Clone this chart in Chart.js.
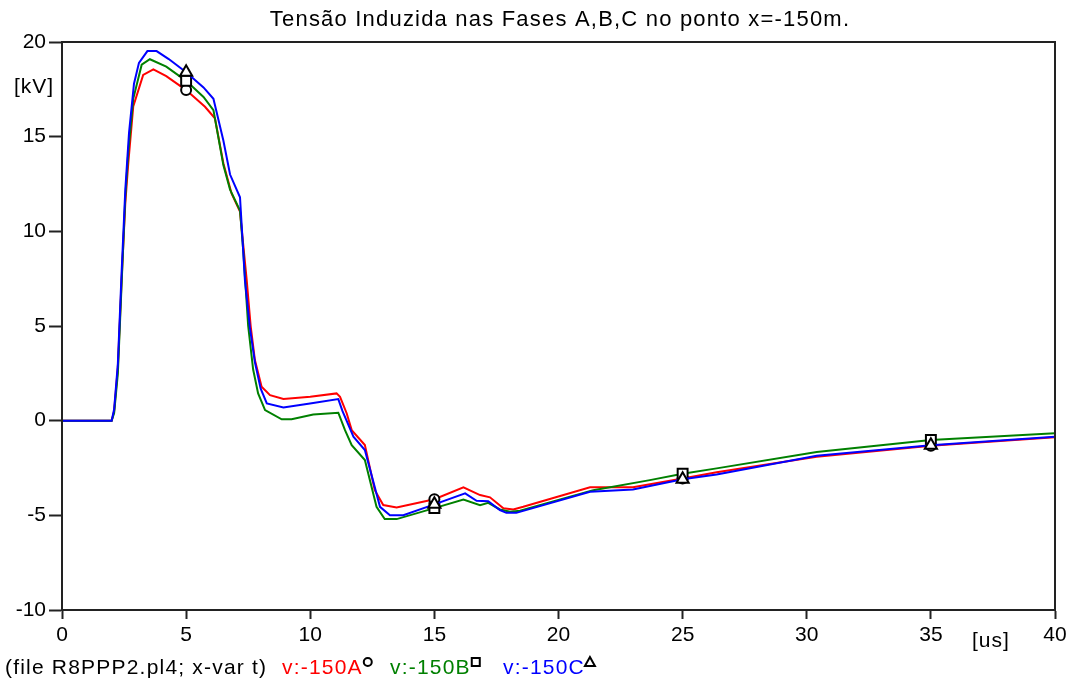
<!DOCTYPE html>
<html>
<head>
<meta charset="utf-8">
<script src="https://cdn.jsdelivr.net/npm/chart.js@4/dist/chart.umd.min.js"></script>
<style>
    body { margin: 0; background: #fff; }
    canvas { display: block; }
</style>
</head>
<body>
<canvas id="plot" width="1072" height="688"></canvas>
<script>
// 데이터
const titleText = 'Tensão Induzida nas Fases A,B,C no ponto x=-150m.';
const xTicks = [0, 5, 10, 15, 20, 25, 30, 35, 40];
const yTicks = [-10, -5, 0, 5, 10, 15, 20];
const markerTimes = [5, 15, 25, 35];

// v:-150A
const tA = [0, 2.0, 2.1, 2.25, 2.4, 2.55, 2.67, 2.87, 3.27, 3.68, 4.2, 5, 5.76, 6.16, 6.5, 6.83, 7.17, 7.44, 7.6, 7.77, 8.04, 8.38, 8.92, 10.0, 11.06, 11.2, 11.47, 11.67, 12.2, 12.6, 12.94, 13.48, 15, 16.17, 16.84, 17.24, 17.78, 18.18, 18.58, 21.27, 23.0, 25, 26.37, 30.4, 35, 40];
const vA = [0, 0, 0.5, 2.8, 7.4, 11.5, 13.6, 16.6, 18.26, 18.56, 18.2, 17.46, 16.58, 15.97, 13.6, 12.0, 11.04, 7.43, 5.0, 3.2, 1.79, 1.35, 1.14, 1.26, 1.44, 1.26, 0.38, -0.5, -1.29, -3.67, -4.46, -4.58, -4.15, -3.52, -3.93, -4.05, -4.63, -4.69, -4.55, -3.52, -3.52, -3.05, -2.72, -1.9, -1.33, -0.88];

// v:-150B
const tB = [0, 2.0, 2.1, 2.25, 2.4, 2.55, 2.67, 2.87, 3.21, 3.54, 4.2, 5, 5.7, 6.1, 6.5, 6.77, 7.17, 7.3, 7.5, 7.7, 7.9, 8.18, 8.85, 9.25, 10.12, 11.13, 11.4, 11.67, 12.2, 12.67, 13.0, 13.48, 15, 16.17, 16.84, 17.17, 17.64, 18.05, 18.45, 21.4, 23.68, 25, 26.37, 30.4, 35, 40];
const vB = [0, 0, 0.4, 2.5, 7.2, 11.8, 14.2, 17.0, 18.8, 19.09, 18.7, 17.95, 17.1, 16.4, 13.5, 12.2, 11.1, 9.0, 5.0, 2.7, 1.44, 0.56, 0.07, 0.07, 0.33, 0.42, -0.5, -1.29, -2.08, -4.55, -5.2, -5.2, -4.62, -4.16, -4.46, -4.34, -4.69, -4.81, -4.76, -3.67, -3.14, -2.8, -2.52, -1.65, -1.02, -0.67];

// v:-150C
const tC = [0, 2.0, 2.1, 2.25, 2.4, 2.55, 2.7, 2.9, 3.1, 3.44, 3.81, 4.3, 5, 5.7, 6.1, 6.5, 6.77, 7.17, 7.37, 7.57, 7.77, 8.0, 8.25, 8.92, 9.99, 11.13, 11.3, 11.74, 12.2, 12.81, 13.21, 13.75, 15, 16.24, 16.7, 17.17, 17.64, 17.9, 18.3, 21.27, 23.0, 25, 26.37, 30.4, 35, 40];
const vC = [0, 0, 0.6, 3.0, 7.8, 12.2, 15.2, 17.8, 18.9, 19.52, 19.52, 19.1, 18.4, 17.6, 17.0, 14.8, 13.0, 11.8, 7.4, 4.9, 3.1, 1.7, 0.91, 0.7, 0.91, 1.14, 0.5, -0.85, -1.55, -4.55, -4.99, -4.99, -4.42, -3.84, -4.23, -4.25, -4.72, -4.87, -4.87, -3.76, -3.63, -3.1, -2.84, -1.85, -1.3, -0.85];

const FONT = '"Liberation Sans", Arial, sans-serif';

// x, y 배열을 점 목록으로 변환
function toPoints(ts, vs) {
    return ts.map((t, i) => ({ x: t, y: vs[i] }));
}

// 마커는 t = 5, 15, 25, 35 에만 표시
function markerRadius(r) {
    return ctx => (ctx.raw && markerTimes.includes(ctx.raw.x)) ? r : 0;
}

function makeSeries(label, ts, vs, color, style, r, order) {
    return {
        label: label,
        data: toPoints(ts, vs),
        order: order,
        borderColor: color,
        borderWidth: 2,
        tension: 0,
        pointStyle: style,
        pointRadius: markerRadius(r),
        pointHoverRadius: 0,
        pointBorderColor: '#000',
        pointBackgroundColor: '#fff',
        pointBorderWidth: 2
    };
}

// 제목, 축 단위, 범례 텍스트, 테두리 그리기
const decorPlugin = {
    id: 'decor',
    afterDraw(chart) {
        const c = chart.ctx;
        const a = chart.chartArea;
        c.save();

        // 테두리
        c.strokeStyle = '#222';
        c.lineWidth = 2;
        c.strokeRect(a.left, a.top, a.right - a.left, a.bottom - a.top);

        // 제목
        c.fillStyle = '#000';
        c.font = '22px ' + FONT;
        c.letterSpacing = '1.2px';
        c.textAlign = 'center';
        c.textBaseline = 'middle';
        c.fillText(titleText, 560, 20);

        // 단위
        c.font = '21px ' + FONT;
        c.letterSpacing = '1px';
        c.textAlign = 'left';
        c.fillText('[kV]', 14, 87);
        c.fillText('[us]', 972, 641);

        // 범례
        c.letterSpacing = '1.2px';
        c.fillText('(file R8PPP2.pl4; x-var t)', 5, 668);
        const items = [
            { text: 'v:-150A', color: '#ff0000', x: 282, mark: 'circle' },
            { text: 'v:-150B', color: '#008000', x: 390, mark: 'rect' },
            { text: 'v:-150C', color: '#0000ff', x: 503, mark: 'triangle' }
        ];
        items.forEach(it => {
            c.fillStyle = it.color;
            c.fillText(it.text, it.x, 668);
            const w = c.measureText(it.text).width;
            const mx = it.x + w + 5;
            const my = 662;
            c.strokeStyle = '#000';
            c.lineWidth = 2;
            c.beginPath();
            if (it.mark === 'circle') {
                c.arc(mx, my, 4, 0, Math.PI * 2);
            } else if (it.mark === 'rect') {
                c.rect(mx - 4, my - 4, 8, 8);
            } else {
                c.moveTo(mx, my - 5);
                c.lineTo(mx + 5, my + 4);
                c.lineTo(mx - 5, my + 4);
                c.closePath();
            }
            c.stroke();
        });

        c.restore();
    }
};

const chart = new Chart(document.getElementById('plot').getContext('2d'), {
    type: 'line',
    data: {
        datasets: [
            makeSeries('v:-150A', tA, vA, '#ff0000', 'circle', 5, 2),
            makeSeries('v:-150B', tB, vB, '#008000', 'rect', 7, 1),
            makeSeries('v:-150C', tC, vC, '#0000ff', 'triangle', 7, 0)
        ]
    },
    options: {
        responsive: false,
        animation: false,
        layout: { padding: { top: 42, right: 17, bottom: 40, left: 0 } },
        plugins: {
            legend: { display: false },
            title: { display: false },
            tooltip: { enabled: false }
        },
        scales: {
            x: {
                type: 'linear',
                min: 0,
                max: 40,
                afterBuildTicks: scale => { scale.ticks = xTicks.map(v => ({ value: v })); },
                afterFit: scale => { scale.height = 38; },
                ticks: { color: '#000', font: { size: 21, family: FONT }, padding: 4, maxRotation: 0 },
                grid: { drawOnChartArea: false, tickLength: 9, tickColor: '#222', tickWidth: 2 },
                border: { color: '#222', width: 2 }
            },
            y: {
                type: 'linear',
                min: -10,
                max: 20,
                afterBuildTicks: scale => { scale.ticks = yTicks.map(v => ({ value: v })); },
                afterFit: scale => { scale.width = 62; },
                ticks: { color: '#000', font: { size: 21, family: FONT }, padding: 3 },
                grid: { drawOnChartArea: false, tickLength: 13, tickColor: '#222', tickWidth: 2 },
                border: { color: '#222', width: 2 }
            }
        }
    },
    plugins: [decorPlugin]
});
</script>
</body>
</html>
